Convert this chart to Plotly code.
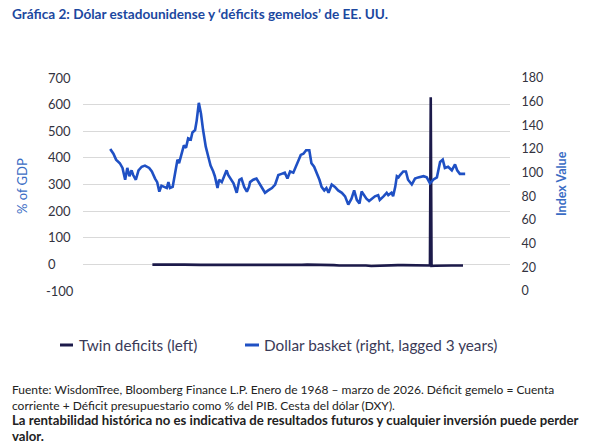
import plotly.graph_objects as go

# ---------------- data ----------------
dollar_x = [1960.1, 1960.7, 1961.2, 1961.9, 1962.4, 1962.9, 1963.3, 1963.7, 1964.1, 1964.4,
            1964.9, 1965.4, 1966.0, 1966.6, 1967.4, 1967.9, 1968.5, 1968.9, 1969.3, 1969.7,
            1970.2, 1970.7, 1971.0, 1971.3, 1971.8, 1972.2, 1972.7, 1973.0, 1973.5, 1973.9,
            1974.3, 1974.7, 1975.2, 1975.5, 1976.0, 1976.3, 1976.7, 1977.1, 1977.5, 1978.0,
            1978.5, 1978.9, 1979.4, 1979.7, 1980.2, 1980.5, 1981.0, 1981.4, 1981.9, 1982.2,
            1982.7, 1983.2, 1983.8, 1984.3, 1984.7, 1985.2, 1985.7, 1986.1, 1986.3, 1986.9,
            1987.5, 1988.2, 1989.1, 1989.7, 1990.4, 1991.0, 1991.6, 1992.2, 1992.8, 1993.3,
            1993.8, 1994.4, 1994.9, 1995.3, 1995.8, 1996.3, 1996.8, 1997.4, 1997.8, 1998.3,
            1998.8, 1999.3, 1999.7, 2000.2, 2000.6, 2001.0, 2001.6, 2002.2, 2002.8, 2003.5,
            2004.1, 2004.7, 2005.3, 2005.8, 2006.3, 2006.8, 2007.2, 2007.6, 2008.1, 2008.6,
            2009.1, 2009.7, 2010.3, 2010.6, 2011.3, 2011.9, 2012.2, 2012.8, 2013.1, 2013.5,
            2013.8, 2014.1, 2014.4, 2015.0, 2015.5, 2015.9, 2016.6, 2017.2, 2017.8, 2018.8,
            2019.4, 2020.0, 2020.6, 2021.3, 2021.9, 2022.4, 2022.8, 2023.4, 2024.1, 2024.7,
            2025.1, 2025.6, 2026.6]
dollar_v = [120, 116, 111, 108, 104, 94, 104, 97, 102, 98,
            94, 102, 105, 106, 104, 101, 95, 92, 84, 89,
            88, 87, 92, 87, 88, 99, 111, 108, 116, 123,
            121, 129, 128, 134, 136, 144, 159, 150, 136, 122,
            113, 106, 101, 97, 87, 94, 92, 97, 102, 98,
            94, 91, 83, 94, 95, 88, 84, 88, 92, 94,
            95, 90, 83, 85, 87, 90, 98, 99, 100, 95,
            101, 100, 105, 109, 115, 116, 119, 119, 108, 105,
            100, 94, 88, 85, 87, 83, 90, 88, 85, 83,
            80, 73, 78, 85, 77, 74, 84, 81, 78, 76,
            78, 80, 81, 77, 80, 83, 81, 83, 80, 88,
            97, 96, 98, 101, 101, 94, 90, 95, 96, 97,
            96, 91, 94, 96, 109, 111, 104, 105, 102, 107,
            102, 99, 99]

twin_x = [1968, 1969, 1970, 1971, 1972, 1973, 1974, 1975, 1976, 1977,
          1978, 1979, 1980, 1981, 1982, 1983, 1984, 1985, 1986, 1987,
          1988, 1989, 1990, 1991, 1992, 1993, 1994, 1995, 1996, 1997,
          1998, 1999, 2000, 2001, 2002, 2003, 2004, 2005, 2006, 2007,
          2008, 2009, 2010, 2011, 2012, 2013, 2014, 2015, 2016, 2017,
          2018, 2019, 2020.0, 2020.15, 2020.3, 2021, 2022, 2023, 2024, 2025,
          2026.2]
twin_v = [-1, 0, -1, -1, -2, -1, -1, -2, -2, -2,
          -2, -1, -2, -2, -2, -3, -3, -4, -4, -3,
          -3, -2, -2, -2, -3, -2, -2, -2, -2, -1,
          -1, -2, -2, -2, -3, -4, -4, -4, -3, -3,
          -4, -6, -5, -5, -4, -3, -3, -3, -3, -3,
          -3, -4, -4, 628, -6, -5, -4, -4, -4, -4,
          -4]

left_ticks = [-100, 0, 100, 200, 300, 400, 500, 600, 700]
right_ticks = [0, 20, 40, 60, 80, 100, 120, 140, 160, 180]


def left_label(v):
    # labels are left-aligned in the original: pad short ones on the right
    s = str(v)
    if v < 0:
        return s
    return s + "\u2007" * (3 - len(s)) + "\u2008"


left_text = [left_label(v) for v in left_ticks]

TITLE = "Gráfica 2: Dólar estadounidense y ‘déficits gemelos’ de EE. UU."
BOLD_STYLE = "<span style='font-size:13.2px'><b>"
FOOT = ("Fuente: WisdomTree, Bloomberg Finance L.P. Enero de 1968 – marzo de 2026. Déficit gemelo = Cuenta<br>"
        "corriente + Déficit presupuestario como % del PIB. Cesta del dólar (DXY).<br>"
        + BOLD_STYLE + "La rentabilidad histórica no es indicativa de resultados futuros y cualquier inversión puede perder</b></span><br>"
        + BOLD_STYLE + "valor.</b></span>")

FONT = "Lato"
NAVY = "#1c1a4a"
BLUE = "#1f50c4"
AXBLUE = "#3a6cc4"
LEGTXT = "#3a3a58"

# plot area in pixels (for placing annotations / legend keys)
PL, PR, PT, PB = 83, 510, 78, 291
PW, PH = PR - PL, PB - PT


def px(x):
    return (x - PL) / PW


def py(y):
    return (PB - y) / PH


fig = go.Figure()
fig.add_trace(go.Scatter(x=twin_x, y=twin_v, mode="lines", name="Twin deficits (left)",
                         line=dict(color=NAVY, width=2.6), yaxis="y"))
fig.add_trace(go.Scatter(x=dollar_x, y=dollar_v, mode="lines",
                         name="Dollar basket (right, lagged 3 years)",
                         line=dict(color=BLUE, width=2.6), yaxis="y2"))

legend_items = [("Twin deficits (left)", NAVY, 60, 73, 77),
                ("Dollar basket (right, lagged 3 years)", BLUE, 245, 259, 262)]
shapes = []
annotations = []
for name, col, x0, x1, xt in legend_items:
    shapes.append(dict(type="line", xref="paper", yref="paper", x0=px(x0), x1=px(x1),
                       y0=py(345), y1=py(345), line=dict(color=col, width=3)))
    annotations.append(dict(text=name, xref="paper", yref="paper", x=px(xt), y=py(345),
                            xanchor="left", yanchor="middle", showarrow=False,
                            font=dict(size=15.3, color=LEGTXT, family=FONT)))

annotations += [
    dict(text="<b>" + TITLE + "</b>", xref="paper", yref="paper", x=px(10), y=py(14),
         xanchor="left", yanchor="middle", showarrow=False,
         font=dict(size=13.6, color="#1c48a0", family=FONT)),
    dict(text="% of GDP", xref="paper", yref="paper", x=px(22), y=py(186),
         xanchor="center", yanchor="middle", textangle=-90, showarrow=False,
         font=dict(size=13, color=AXBLUE, family=FONT)),
    dict(text="<b>Index Value</b>", xref="paper", yref="paper", x=px(561), y=py(184),
         xanchor="center", yanchor="middle", textangle=-90, showarrow=False,
         font=dict(size=12.5, color=AXBLUE, family=FONT)),
    dict(text=FOOT, xref="paper", yref="paper", x=px(10), y=py(380),
         xanchor="left", yanchor="top", align="left", showarrow=False,
         font=dict(size=12, color="#222222", family=FONT)),
]

fig.update_layout(
    width=603, height=445,
    margin=dict(l=PL, r=603 - PR, t=PT, b=445 - PB),
    paper_bgcolor="white", plot_bgcolor="white",
    font=dict(family=FONT, size=12, color="#333333"),
    showlegend=False,
    xaxis=dict(range=[1955, 2035], showgrid=False, zeroline=False, showticklabels=False,
               showline=False, ticks=""),
    yaxis=dict(range=[-100, 700], tickvals=left_ticks, ticktext=left_text,
               showgrid=True, gridcolor="#d9d9d9",
               gridwidth=1, zeroline=False, showline=False, ticks="outside", ticklen=6,
               tickcolor="rgba(0,0,0,0)", tickfont=dict(size=13, color="#333340")),
    yaxis2=dict(range=[0, 180], tickvals=right_ticks, overlaying="y", side="right",
                showgrid=False, zeroline=False, showline=False, ticks="outside", ticklen=8,
                tickcolor="rgba(0,0,0,0)", tickfont=dict(size=12.5, color="#333340")),
    shapes=shapes,
    annotations=annotations,
)

fig.write_html("out.html")
